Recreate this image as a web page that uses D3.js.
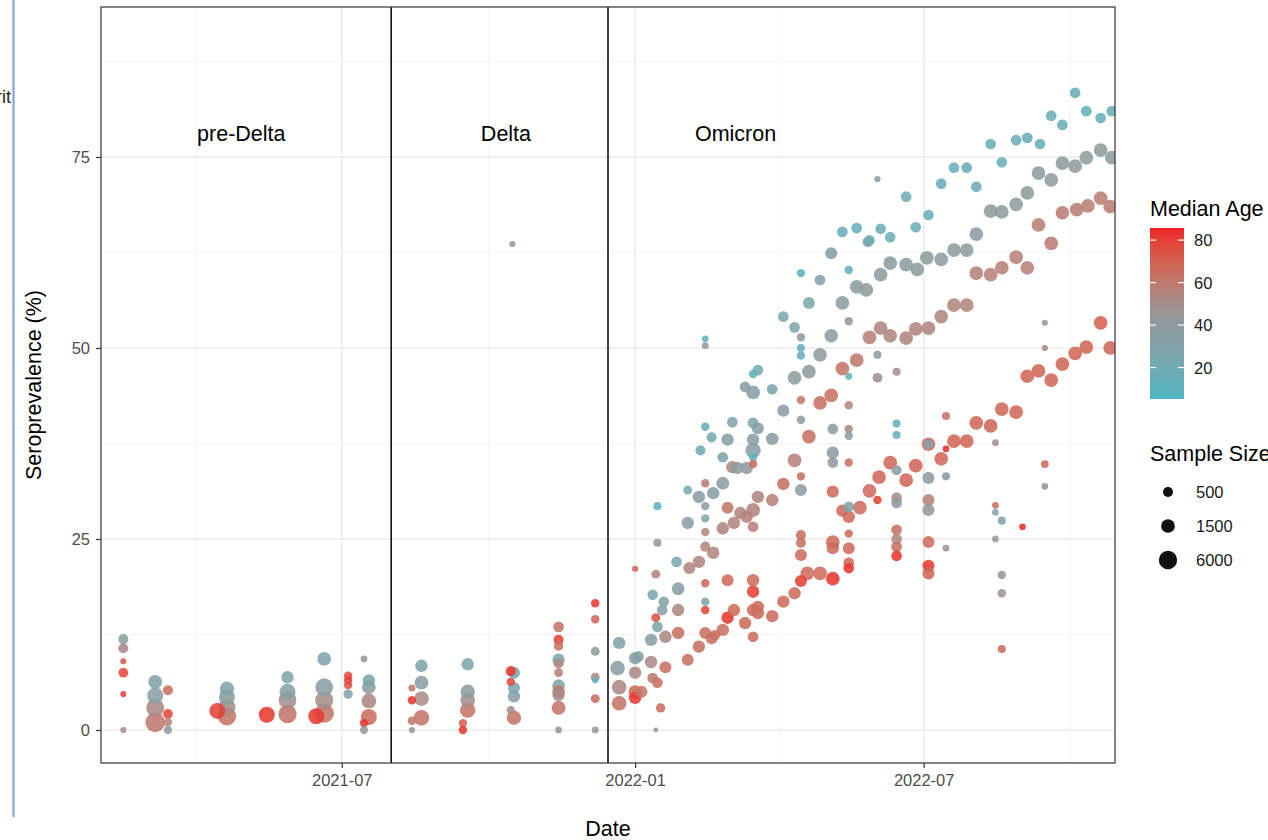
<!DOCTYPE html>
<html><head><meta charset="utf-8">
<script src="https://cdn.jsdelivr.net/npm/d3@7"></script>
<style>body{margin:0;background:#fff}svg{display:block;font-family:"Liberation Sans",Arial,sans-serif}</style>
</head><body>
<svg id="c" width="1268" height="840"></svg>
<script>
// ---- data: [date, seroprevalence %, median age, sample size] ----
const preDelta = [
["2021-02-14",11.9,35,500],["2021-02-14",10.7,52,500],["2021-02-14",9.0,72,150],["2021-02-14",7.5,78,450],["2021-02-14",4.7,80,150],["2021-02-14",0.0,50,150],
["2021-03-06",6.3,30,1600],["2021-03-06",4.5,35,3000],["2021-03-06",2.9,52,5500],["2021-03-06",1.0,60,9000],
["2021-03-14",5.2,65,500],["2021-03-14",2.1,78,450],["2021-03-14",1.0,55,270],["2021-03-14",0.0,40,270],
["2021-04-14",2.5,80,3000],
["2021-04-20",5.4,30,1800],["2021-04-20",4.3,37,3000],["2021-04-20",3.0,50,4000],["2021-04-20",1.8,62,6000],
["2021-05-15",2.0,82,3000],
["2021-05-28",6.9,28,1000],["2021-05-28",5.0,35,3000],["2021-05-28",3.9,50,5000],["2021-05-28",2.1,62,6000],
["2021-06-15",1.8,82,3000],
["2021-06-20",9.3,28,1500],["2021-06-20",5.6,36,5000],["2021-06-20",3.9,50,5500],["2021-06-20",2.2,62,8000],
["2021-07-05",7.1,78,300],["2021-07-05",6.5,80,300],["2021-07-05",5.9,76,300],["2021-07-05",4.7,30,400],
["2021-07-15",9.3,40,180],["2021-07-15",0.9,82,300],["2021-07-15",0.0,45,250],
["2021-07-18",6.5,28,1000],["2021-07-18",5.6,36,1500],["2021-07-18",3.8,52,2000],["2021-07-18",1.7,65,3000]
];
const delta = [
["2021-08-14",0.0,40,150],["2021-08-14",3.9,82,300],["2021-08-14",5.5,60,200],["2021-08-14",1.2,62,300],
["2021-08-20",8.4,28,1000],["2021-08-20",6.2,36,1500],["2021-08-20",4.1,50,2000],["2021-08-20",1.6,62,2500],
["2021-09-15",0.9,70,300],["2021-09-15",0.0,82,300],
["2021-09-18",8.6,28,1000],["2021-09-18",5.0,38,1800],["2021-09-18",3.9,50,2000],["2021-09-18",2.6,62,2500],
["2021-10-15",7.7,82,500],["2021-10-15",6.3,78,300],["2021-10-15",2.6,50,270],
["2021-10-16",63.6,42,150],
["2021-10-17",7.5,22,900],["2021-10-17",5.5,25,900],["2021-10-17",4.4,35,1000],["2021-10-17",1.6,62,1800],
["2021-11-14",13.5,62,600],["2021-11-14",11.8,80,500],["2021-11-14",11.0,65,400],["2021-11-14",9.2,28,1000],["2021-11-14",8.7,52,500],
["2021-11-14",7.5,58,350],["2021-11-14",5.8,32,1100],["2021-11-14",5.0,62,1000],["2021-11-14",4.6,50,1000],["2021-11-14",2.9,62,1600],["2021-11-14",0.0,42,180],
["2021-12-07",16.6,82,300],["2021-12-07",14.5,68,300],["2021-12-07",10.3,38,350],["2021-12-07",6.9,52,350],["2021-12-07",6.5,12,150],["2021-12-07",4.1,65,350],["2021-12-07",0.0,42,180]
];
const omicron = [
["2021-12-22",11.4,30,1000],["2021-12-21",8.1,35,2000],["2021-12-22",5.6,52,2000],["2021-12-22",3.5,62,2000],
["2022-01-01",9.4,38,1000],["2022-01-03",9.6,30,700],["2022-01-01",7.5,52,1000],["2022-01-01",5.0,68,1200],["2022-01-01",4.2,82,1000],
["2022-01-05",5.0,62,900],["2022-01-11",8.9,52,1000],["2022-01-11",11.8,35,1000],["2022-01-15",13.5,28,600],["2022-01-14",14.7,75,350],
["2022-01-15",6.2,64,600],["2022-01-12",6.8,60,600],["2022-01-17",2.9,66,400],["2022-01-14",0.0,40,100],["2022-01-01",21.1,70,150],
["2022-01-15",29.3,12,270],["2022-01-15",24.5,40,270],["2022-01-14",20.4,55,350],["2022-01-12",17.7,25,550],["2022-01-19",16.8,30,550],
["2022-01-18",15.7,35,600],["2022-01-20",12.2,52,1000],["2022-01-20",8.2,64,900],["2022-01-27",22.0,25,600],["2022-01-28",18.5,36,1100],
["2022-01-28",15.7,52,1000],["2022-01-28",12.7,64,1000],["2022-02-03",9.2,64,900],["2022-02-03",31.4,22,350],["2022-02-03",27.1,36,1000],
["2022-02-04",21.2,54,900],["2022-02-10",22.0,54,1000],["2022-02-10",10.9,64,1000],["2022-02-11",36.6,20,500],["2022-02-10",30.5,36,1000],
["2022-02-14",32.3,58,300],["2022-02-14",29.3,38,300],["2022-02-14",27.7,28,300],["2022-02-14",25.9,55,300],["2022-02-14",24.0,55,500],
["2022-02-14",19.2,68,300],["2022-02-14",16.8,28,300],["2022-02-14",15.7,80,300],["2022-02-14",39.7,15,300],["2022-02-18",38.3,22,500],
["2022-02-14",12.7,64,900],["2022-02-18",12.0,64,900],["2022-02-19",23.2,54,1000],["2022-02-19",31.0,36,1000],["2022-02-25",32.3,36,1100],
["2022-02-25",26.4,54,1000],["2022-02-20",12.4,64,600],["2022-02-25",13.1,64,1000],["2022-02-28",29.1,62,900],["2022-02-28",38.0,36,1000],
["2022-02-25",35.7,28,600],["2022-02-28",19.6,66,900],["2022-02-28",14.7,82,1000],["2022-03-04",15.7,66,1000],["2022-03-03",40.3,28,600],
["2022-03-03",34.4,52,1000],["2022-03-04",27.1,54,1000],["2022-03-08",28.4,54,1000],["2022-03-06",34.3,40,1000],["2022-03-12",34.3,40,1000],
["2022-03-11",14.0,66,1000],["2022-03-12",27.9,56,1000],["2022-03-16",19.6,66,1000],["2022-03-16",18.1,80,1000],["2022-03-16",15.7,66,1000],
["2022-03-16",12.2,66,600],["2022-03-16",38.0,36,1000],["2022-03-16",36.6,36,2500],["2022-03-16",35.7,12,300],["2022-03-16",40.2,28,600],
["2022-03-19",39.5,36,900],["2022-03-16",28.8,54,1600],["2022-03-16",26.6,56,600],["2022-03-19",30.5,54,1000],["2022-03-19",16.1,66,1000],
["2022-03-19",15.3,66,1000],["2022-03-16",34.8,66,300],["2022-03-28",38.1,36,1000],["2022-03-28",30.1,56,1000],["2022-03-28",14.9,66,1000],
["2022-04-04",41.8,36,900],["2022-04-04",32.2,64,1000],["2022-04-04",16.8,66,1000],["2022-04-11",17.9,66,1000],["2022-04-11",35.3,56,1500],
["2022-04-15",40.6,38,300],["2022-04-15",33.2,64,300],["2022-04-15",31.4,38,900],["2022-04-15",25.5,64,500],["2022-04-15",24.5,64,500],
["2022-04-15",22.9,66,900],["2022-04-15",19.5,80,900],["2022-04-19",20.5,66,1500],["2022-04-20",38.4,64,1500],["2022-04-27",20.5,66,1500],
["2022-05-05",39.4,38,600],["2022-05-05",36.3,40,1000],["2022-05-05",35.0,45,600],["2022-05-05",31.2,66,1000],["2022-05-05",24.6,66,1500],
["2022-05-05",23.8,66,1000],["2022-05-05",19.8,82,1500],["2022-05-15",39.4,52,300],["2022-05-15",38.5,38,300],["2022-05-15",35.0,64,300],
["2022-05-11",28.7,66,1000],["2022-05-15",29.2,30,600],["2022-05-15",27.9,66,1000],["2022-05-15",25.7,66,300],["2022-05-15",23.8,66,900],
["2022-05-15",21.9,66,600],["2022-05-15",21.2,82,600],
["2022-05-04",62.4,34,900],["2022-05-27",63.9,30,600],["2022-04-15",59.8,12,300],["2022-05-15",60.2,12,300],["2022-04-27",58.9,30,600],
["2022-05-20",58.0,38,1500],["2022-05-26",57.6,38,1500],["2022-04-20",55.9,26,900],["2022-05-11",55.9,38,1500],["2022-04-04",54.1,25,600],
["2022-05-15",53.5,40,300],["2022-04-11",52.7,28,600],["2022-04-15",51.4,38,300],["2022-05-04",51.6,38,1500],
["2022-02-14",51.2,12,180],["2022-02-14",50.3,40,180],["2022-04-15",50.0,15,270],["2022-04-15",49.0,15,270],["2022-04-27",49.1,38,1500],
["2022-05-20",48.4,60,1500],["2022-05-11",47.3,62,1500],["2022-05-15",46.3,12,200],["2022-03-19",47.1,22,600],["2022-03-16",46.6,12,300],
["2022-04-20",46.9,38,1500],["2022-04-11",46.1,38,1500],["2022-03-11",44.9,34,600],["2022-03-16",44.2,34,1500],["2022-03-28",44.6,25,600],
["2022-04-15",43.2,62,300],["2022-05-04",43.8,64,1500],["2022-04-27",42.8,64,1500],["2022-05-15",42.5,55,300],
["2022-06-02",72.1,40,150],["2022-06-20",69.8,20,600],["2022-07-20",73.6,15,600],["2022-07-28",73.6,15,600],["2022-08-19",74.3,15,600],
["2022-07-12",71.5,15,600],["2022-08-03",71.1,20,600],["2022-09-11",72.9,38,1500],["2022-09-19",72.0,38,1500],
["2022-09-26",74.2,38,1500],["2022-10-04",73.8,38,1500],["2022-10-11",74.9,38,1500],["2022-10-20",75.9,38,1500],["2022-10-27",74.9,38,1500],
["2022-07-04",67.4,15,600],["2022-06-26",65.8,15,600],["2022-05-11",65.2,15,600],["2022-05-20",65.7,15,600],["2022-06-04",65.6,18,600],
["2022-06-10",64.5,18,600],["2022-05-28",64.1,18,600],
["2022-09-04",70.3,38,1500],["2022-08-28",68.8,38,1500],["2022-08-19",67.8,38,1500],["2022-08-12",67.9,38,1500],["2022-08-03",64.9,38,1500],
["2022-07-28",62.8,38,1500],["2022-07-20",62.8,38,1500],["2022-07-12",61.6,38,1500],["2022-07-03",61.8,38,1500],["2022-06-27",60.3,38,1500],
["2022-06-20",60.9,38,1500],["2022-06-10",61.1,38,1500],["2022-06-04",59.6,38,1500],
["2022-09-11",66.1,58,1500],["2022-09-19",63.7,58,1500],["2022-09-26",67.7,58,1500],["2022-10-05",68.1,58,1500],["2022-10-12",68.6,58,1500],
["2022-10-20",69.6,58,1500],["2022-10-26",68.5,58,1500],
["2022-08-03",59.8,56,1500],["2022-08-12",59.6,56,1500],["2022-08-19",60.5,56,1500],["2022-08-28",61.9,56,1500],["2022-09-04",60.5,56,1500],
["2022-07-20",55.6,54,1500],["2022-07-28",55.6,54,1500],["2022-07-12",54.1,54,1500],["2022-07-04",52.6,54,1500],["2022-06-26",52.5,54,1500],
["2022-06-20",51.3,54,1500],["2022-06-10",51.6,54,1500],["2022-06-04",52.6,54,1500],["2022-05-28",51.4,56,1500],
["2022-06-02",49.1,40,270],["2022-06-14",46.9,50,270],["2022-06-02",46.1,50,450],["2022-06-14",40.1,14,270],["2022-06-14",38.6,14,270],
["2022-07-15",41.1,64,270],["2022-08-15",37.6,50,180],["2022-09-15",53.3,42,150],["2022-09-15",50.0,52,150],["2022-09-15",34.8,66,250],
["2022-10-20",53.3,70,1500],["2022-10-11",50.1,68,1500],["2022-10-04",49.3,68,1500],["2022-09-26",47.9,68,1500],["2022-09-19",45.8,68,1500],
["2022-09-11",47.0,68,1500],["2022-09-04",46.3,68,1500],["2022-10-26",50.0,68,1500],["2022-08-28",41.6,68,1500],["2022-08-19",42.0,68,1500],
["2022-08-12",39.8,68,1500],["2022-08-03",40.2,68,1500],["2022-07-28",37.8,68,1500],["2022-07-20",37.8,68,1500],["2022-07-04",37.4,68,1500],
["2022-07-04",37.4,32,500],["2022-07-15",36.8,84,180],["2022-07-12",35.5,68,1500],["2022-06-26",34.6,68,1500],["2022-06-10",35.0,68,1500],
["2022-06-14",34.0,36,500],["2022-06-03",33.1,68,1500],["2022-06-20",32.7,68,1500],["2022-07-04",33.0,38,900],["2022-07-15",33.2,40,270],
["2022-10-04",83.4,15,600],["2022-10-11",81.0,15,600],["2022-10-20",80.1,15,600],["2022-10-27",81.0,15,600],["2022-09-19",80.4,15,600],
["2022-09-26",79.2,15,600],["2022-08-12",76.7,15,600],["2022-08-28",77.2,15,600],["2022-09-04",77.5,15,600],["2022-09-12",76.7,15,600],
["2022-05-28",31.3,66,1500],["2022-06-02",30.1,80,300],["2022-05-22",29.1,66,1500],["2022-06-14",30.4,52,600],["2022-06-14",29.7,40,600],
["2022-07-04",30.1,56,900],["2022-07-04",28.8,45,900],["2022-06-14",26.2,64,600],["2022-06-14",25.0,52,600],["2022-06-14",24.0,64,600],
["2022-06-14",22.8,82,600],["2022-07-04",24.6,66,900],["2022-07-15",23.8,48,180],["2022-07-04",21.5,82,900],["2022-07-04",20.5,68,900],
["2022-09-15",31.9,42,180],["2022-08-15",29.4,66,180],["2022-08-15",28.5,32,180],["2022-08-19",27.4,30,270],["2022-09-01",26.6,84,180],
["2022-08-15",25.0,40,180],["2022-08-19",20.3,42,300],["2022-08-19",17.9,48,300],["2022-08-19",10.6,66,270]
];
const xMajorTicks = ["2021-07-01","2022-01-01","2022-07-01"];
const xMinorTicks = ["2021-04-01","2021-10-01","2022-04-01","2022-10-01"];
const yMajorTicks = [0,25,50,75];
const yMinorTicks = [12.5,37.5,62.5,87.5];
const phaseBreaks = ["2021-08-01","2021-12-15"];
const phaseLabels = [["pre-Delta","2021-04-29"],["Delta","2021-10-12"],["Omicron","2022-03-05"]];
const ageTicks = [20,40,60,80];
const sizeBreaks = [500,1500,6000];

// ---- drawing ----
const parse = d3.utcParse("%Y-%m-%d");
const svg = d3.select("#c");
const P = {l:101, r:1115, t:7, b:763};
const x = d3.scaleUtc().domain([parse("2021-01-31"), parse("2022-10-29")]).range([P.l, P.r]);
const y = d3.scaleLinear().domain([-4.32, 94.63]).range([P.b, P.t]);
const color = d3.scaleLinear().domain([5,45,86]).range(["#4db6c4","#949699","#ee1c25"]).interpolate(d3.interpolateLab).clamp(true);
const size = d3.scaleLog().domain([100,10000]).range([2.4,10]).clamp(true);

// screenshot artefacts at the left edge
svg.append("line").attr("x1",13.5).attr("x2",13.5).attr("y1",0).attr("y2",817).attr("stroke","#7a9bdc").attr("stroke-width",2);
svg.append("text").attr("x",11).attr("y",103).attr("text-anchor","end").attr("font-size",18).attr("fill","#222").text("rit");

// panel
svg.append("rect").attr("x",P.l).attr("y",P.t).attr("width",P.r-P.l).attr("height",P.b-P.t).attr("fill","#fff");
const grid = svg.append("g");
xMinorTicks.forEach(d=>grid.append("line").attr("x1",x(parse(d))).attr("x2",x(parse(d))).attr("y1",P.t).attr("y2",P.b).attr("stroke","#f2f2f2").attr("stroke-width",0.9));
yMinorTicks.forEach(d=>grid.append("line").attr("y1",y(d)).attr("y2",y(d)).attr("x1",P.l).attr("x2",P.r).attr("stroke","#f2f2f2").attr("stroke-width",0.9));
xMajorTicks.forEach(d=>grid.append("line").attr("x1",x(parse(d))).attr("x2",x(parse(d))).attr("y1",P.t).attr("y2",P.b).attr("stroke","#ebebeb").attr("stroke-width",1.6));
yMajorTicks.forEach(d=>grid.append("line").attr("y1",y(d)).attr("y2",y(d)).attr("x1",P.l).attr("x2",P.r).attr("stroke","#ebebeb").attr("stroke-width",1.6));

svg.append("clipPath").attr("id","clip").append("rect").attr("x",P.l).attr("y",P.t).attr("width",P.r-P.l).attr("height",P.b-P.t);

const all = preDelta.concat(delta, omicron).map(d=>({date:parse(d[0]), v:d[1], age:d[2], n:d[3]}));
all.sort((a,b)=>b.n-a.n);
svg.append("g").attr("clip-path","url(#clip)").selectAll("circle").data(all).join("circle")
  .attr("cx",d=>x(d.date)).attr("cy",d=>y(d.v)).attr("r",d=>size(d.n))
  .attr("fill",d=>color(d.age)).attr("fill-opacity",0.87);

// phase lines + labels
phaseBreaks.forEach(d=>svg.append("line").attr("x1",x(parse(d))).attr("x2",x(parse(d))).attr("y1",P.t).attr("y2",P.b).attr("stroke","#000").attr("stroke-width",1.5));
phaseLabels.forEach(([t,d])=>svg.append("text").attr("x",x(parse(d))).attr("y",y(78)+7).attr("text-anchor","middle").attr("font-size",21.5).attr("fill","#000").text(t));

svg.append("rect").attr("x",P.l).attr("y",P.t).attr("width",P.r-P.l).attr("height",P.b-P.t).attr("fill","none").attr("stroke","#333").attr("stroke-width",1.2);

// axes
const xa = svg.append("g").attr("transform",`translate(0,${P.b})`)
  .call(d3.axisBottom(x).tickValues(xMajorTicks.map(parse)).tickFormat(d3.utcFormat("%Y-%m")).tickSize(5).tickPadding(6));
const ya = svg.append("g").attr("transform",`translate(${P.l},0)`)
  .call(d3.axisLeft(y).tickValues(yMajorTicks).tickSize(5).tickPadding(6));
[xa,ya].forEach(g=>{g.select(".domain").remove();g.selectAll(".tick line").attr("stroke","#333").attr("stroke-width",1.2);
  g.selectAll(".tick text").attr("fill","#4d4d4d").attr("font-size",16.5).attr("font-family","Liberation Sans, Arial, sans-serif");});

svg.append("text").attr("x",(P.l+P.r)/2).attr("y",836).attr("text-anchor","middle").attr("font-size",21.5).text("Date");
svg.append("text").attr("transform",`translate(41,${(P.t+P.b)/2}) rotate(-90)`).attr("text-anchor","middle").attr("font-size",21.5).text("Seroprevalence (%)");

// colour legend
const lg = svg.append("g");
lg.append("text").attr("x",1150).attr("y",216).attr("font-size",21.5).text("Median Age");
const ageLeg = d3.scaleLinear().domain([5.2,85.7]).range([399,228]);
const grad = svg.append("defs").append("linearGradient").attr("id","ag").attr("x1",0).attr("x2",0).attr("y1",1).attr("y2",0);
d3.range(0,1.0001,0.05).forEach(t=>{const a=5.2+t*(85.7-5.2);grad.append("stop").attr("offset",t).attr("stop-color",color(a));});
lg.append("rect").attr("x",1150).attr("y",228).attr("width",34).attr("height",171).attr("fill","url(#ag)");
ageTicks.forEach(a=>{
  lg.append("line").attr("x1",1150).attr("x2",1156).attr("y1",ageLeg(a)).attr("y2",ageLeg(a)).attr("stroke","#fff").attr("stroke-width",1.2);
  lg.append("line").attr("x1",1178).attr("x2",1184).attr("y1",ageLeg(a)).attr("y2",ageLeg(a)).attr("stroke","#fff").attr("stroke-width",1.2);
  lg.append("text").attr("x",1194).attr("y",ageLeg(a)+6).attr("font-size",16.5).attr("fill","#1a1a1a").text(a);
});

// size legend
lg.append("text").attr("x",1150).attr("y",461).attr("font-size",21.5).text("Sample Size");
sizeBreaks.forEach((s,i)=>{
  const cy = 492 + i*34;
  lg.append("circle").attr("cx",1168).attr("cy",cy).attr("r",size(s)).attr("fill","#111");
  lg.append("text").attr("x",1196).attr("y",cy+6).attr("font-size",16.5).attr("fill","#1a1a1a").text(s);
});
</script>
</body></html>
